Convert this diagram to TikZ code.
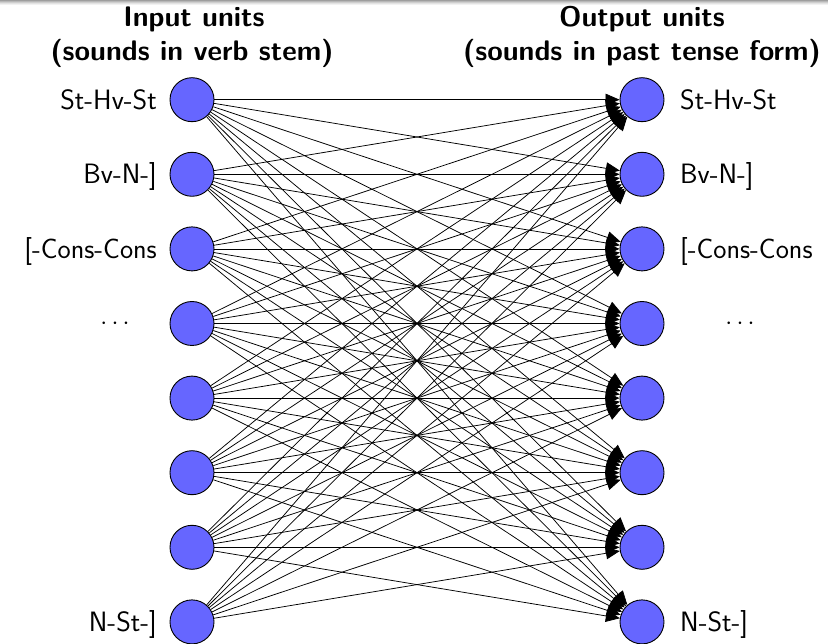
\documentclass[tikz,border=0pt]{standalone}
\usetikzlibrary{arrows.meta}
\definecolor{unitblue}{RGB}{102,102,255}
\begin{document}
\begin{tikzpicture}[x=1pt,y=-1pt,
  unit/.style={circle,draw=black,line width=0.9pt,fill=unitblue,minimum size=44pt,inner sep=0pt},
  conn/.style={line width=0.75pt,-{Triangle[length=14pt,width=12pt]}},
  lbl/.style={inner sep=0pt,font=\sffamily\fontsize{28}{33}\selectfont},
  ttl/.style={inner sep=0pt,align=center,font=\sffamily\bfseries\fontsize{28.3}{34}\selectfont}]
\useasboundingbox (0,0) rectangle (828,644);
% header shadow strip
\foreach \k/\g in {0/62,1/72,2/81,3/89,4/95}
  \fill[black!\the\numexpr100-\g\relax] (0,\k) rectangle (828,\k+1);
% titles
\node[ttl,anchor=base] (tin1) at (194,27) {Input units};
\node[ttl,anchor=base] (tin2) at (192,61) {(sounds in verb stem)};
\node[ttl,anchor=base] (tout1) at (642,27) {Output units};
\node[ttl,anchor=base] (tout2) at (642,61) {(sounds in past tense form)};
% units
\foreach \i in {1,...,8}{
  \node[unit] (in\i) at (192,{99.7+74.6*(\i-1)}) {};
  \node[unit] (out\i) at (642,{99.7+74.6*(\i-1)}) {};
}
% labels
\foreach \i/\t in {1/St-Hv-St,2/Bv-N-],3/[-Cons-Cons,8/N-St-]}{
  \node[lbl,anchor=base east] (lin\i) at (157,{99.7+74.6*(\i-1)+9.7}) {\t};
  \node[lbl,anchor=base west] (lout\i) at (680,{99.7+74.6*(\i-1)+9.7}) {\t};
}
\node[lbl] (ldots) at (115,323.5) {$\cdots$};
\node[lbl] (rdots) at (740,323.5) {$\cdots$};
% connections: every input to every output, except the last pair
\foreach \i in {1,...,8}
  \foreach \j in {1,...,8}{
    \ifnum\i=8 \ifnum\j=8 \else \draw[conn] (in\i) -- (out\j); \fi
    \else \draw[conn] (in\i) -- (out\j); \fi
  }
\end{tikzpicture}
\end{document}
